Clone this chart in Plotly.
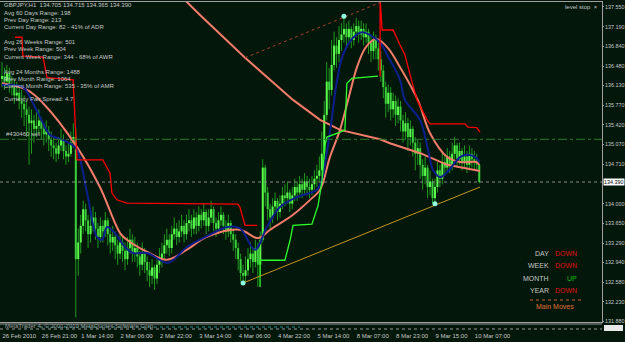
import plotly.graph_objects as go

# ---------------- data ----------------
tick_bars = [0, 16, 32, 48, 64, 80, 96, 112, 128, 144, 160, 176, 192]
tick_labels = ["26 Feb 2010", "26 Feb 21:00", "1 Mar 14:00", "2 Mar 06:00", "2 Mar 22:00",
               "3 Mar 14:00", "4 Mar 06:00", "4 Mar 22:00", "5 Mar 14:00", "8 Mar 07:00",
               "8 Mar 23:00", "9 Mar 15:00", "10 Mar 07:00"]
price_ticks = [137.550, 137.190, 136.840, 136.480, 136.130, 135.770, 135.420, 135.070,
               134.710, 134.000, 133.650, 133.290, 132.940, 132.580, 132.230, 131.880]

first_open = 136.25
closes = [136.30, 136.20, 136.35, 136.15, 136.10, 135.95, 136.00, 135.85, 135.80, 135.70,
          135.60, 135.45, 135.50, 135.35, 135.40, 135.50, 135.35, 135.25, 135.30, 135.15,
          135.05, 135.00, 134.90, 135.05, 135.15, 134.95, 134.85, 134.90, 135.10, 135.20,
          133.00, 133.30, 133.60, 133.90, 133.70, 133.45, 133.60, 133.75, 133.55, 133.40,
          133.60, 133.50, 133.70, 133.45, 133.30, 133.40, 133.25, 133.10, 133.30, 133.15,
          133.00, 133.20, 133.35, 133.10, 133.20, 133.05, 132.90, 133.10, 132.95, 132.80,
          132.70, 132.85, 132.65, 132.90, 133.00, 133.10, 133.25, 133.35, 133.20, 133.45,
          133.55, 133.40, 133.50, 133.60, 133.45, 133.65, 133.70, 133.55, 133.75, 133.60,
          133.80, 133.70, 133.85, 133.60, 133.75, 133.90, 133.65, 133.55, 133.70, 133.80,
          133.60, 133.50, 133.65, 133.45, 133.35, 133.20, 133.00, 132.75, 132.70, 132.80,
          133.00, 133.10, 132.95, 133.20, 132.90, 133.35, 134.65, 134.20, 133.90, 133.75,
          133.95, 134.05, 133.85, 134.00, 134.15, 134.10, 134.20, 134.00, 134.15, 134.30,
          134.20, 134.35, 134.25, 134.40, 134.30, 134.25, 134.35, 134.45, 134.50, 134.60,
          134.90, 135.60, 136.20, 136.05, 136.50, 136.85, 136.70, 136.95, 137.05, 137.15,
          137.00, 137.15, 136.95, 137.10, 137.20, 137.05, 137.15, 137.00, 137.10, 136.90,
          136.75, 136.95, 136.80, 136.60, 136.40, 136.10, 135.80, 136.00, 135.70, 135.85,
          135.60, 135.75, 135.50, 135.30, 135.45, 135.20, 135.35, 135.10, 134.90, 135.00,
          134.70, 134.50, 134.65, 134.30, 134.40, 134.10, 134.30, 134.60, 134.45, 134.75,
          134.65, 134.85, 134.70, 134.90, 135.05, 134.80, 134.95, 134.75, 134.85, 134.70,
          134.90, 134.80, 134.75, 134.705, 134.390]
highs = [136.55, 136.45, 136.50, 136.45, 136.30, 136.25, 136.20, 136.10, 136.05, 135.95,
         135.85, 135.75, 135.70, 135.60, 135.65, 135.70, 135.55, 135.45, 135.50, 135.40,
         135.30, 135.20, 135.10, 135.20, 135.35, 135.25, 135.05, 135.10, 135.30, 135.45,
         135.35, 133.55, 133.80, 134.05, 134.00, 133.80, 133.85, 133.95, 133.85, 133.65,
         133.75, 133.70, 133.85, 133.75, 133.55, 133.60, 133.50, 133.35, 133.45, 133.40,
         133.30, 133.40, 133.55, 133.45, 133.40, 133.30, 133.15, 133.30, 133.20, 133.05,
         132.95, 133.00, 132.90, 133.05, 133.20, 133.30, 133.45, 133.55, 133.45, 133.60,
         133.75, 133.65, 133.70, 133.80, 133.70, 133.80, 133.90, 133.80, 133.90, 133.85,
         133.95, 133.90, 134.00, 133.90, 133.90, 134.05, 133.95, 133.75, 133.85, 133.95,
         133.85, 133.70, 133.80, 133.70, 133.55, 133.45, 133.30, 133.10, 132.90, 133.05,
         133.20, 133.30, 133.20, 133.35, 133.30, 133.50, 134.80, 134.70, 134.30, 134.00,
         134.10, 134.20, 134.10, 134.15, 134.30, 134.35, 134.40, 134.25, 134.30, 134.45,
         134.40, 134.50, 134.45, 134.55, 134.50, 134.45, 134.50, 134.60, 134.70, 134.85,
         135.30, 135.85, 136.55, 136.45, 136.95, 137.10, 137.00, 137.20, 137.25, 137.38,
         137.25, 137.30, 137.20, 137.25, 137.35, 137.30, 137.30, 137.25, 137.25, 137.15,
         137.05, 137.10, 137.05, 136.90, 136.75, 136.50, 136.20, 136.15, 136.10, 136.00,
         135.95, 135.90, 135.85, 135.60, 135.65, 135.55, 135.50, 135.40, 135.20, 135.15,
         135.10, 134.80, 134.85, 134.70, 134.60, 134.45, 134.45, 134.75, 134.70, 134.95,
         134.90, 135.00, 134.95, 135.10, 135.20, 135.10, 135.10, 135.00, 135.05, 134.95,
         135.05, 135.00, 134.95, 134.90, 134.715]
lows = [136.10, 136.05, 136.10, 136.00, 135.95, 135.80, 135.85, 135.70, 135.55, 135.40,
        135.20, 134.70, 134.90, 135.10, 135.20, 135.25, 135.15, 135.05, 135.10, 134.95,
        134.85, 134.80, 134.75, 134.80, 134.95, 134.80, 134.70, 134.75, 134.85, 135.00,
        131.95, 132.70, 133.10, 133.45, 133.50, 133.20, 133.30, 133.50, 133.35, 133.20,
        133.30, 133.30, 133.40, 133.25, 133.10, 133.15, 133.00, 132.90, 133.00, 132.95,
        132.80, 132.90, 133.10, 132.95, 132.95, 132.85, 132.70, 132.80, 132.75, 132.60,
        132.50, 132.55, 132.45, 132.55, 132.75, 132.85, 133.00, 133.10, 133.05, 133.10,
        133.35, 133.25, 133.30, 133.40, 133.30, 133.35, 133.50, 133.40, 133.45, 133.45,
        133.50, 133.55, 133.60, 133.45, 133.50, 133.65, 133.50, 133.40, 133.45, 133.60,
        133.45, 133.35, 133.40, 133.30, 133.15, 133.00, 132.80, 132.60, 132.57, 132.60,
        132.70, 132.85, 132.75, 132.85, 132.50, 132.70, 133.30, 133.95, 133.70, 133.55,
        133.65, 133.85, 133.70, 133.75, 133.90, 133.95, 134.00, 133.85, 133.90, 134.05,
        134.05, 134.10, 134.10, 134.15, 134.15, 134.10, 134.15, 134.25, 134.30, 134.40,
        134.50, 134.80, 135.50, 135.70, 135.95, 136.40, 136.45, 136.55, 136.75, 136.90,
        136.80, 136.90, 136.80, 136.85, 137.00, 136.90, 136.95, 136.85, 136.90, 136.70,
        136.55, 136.60, 136.60, 136.40, 136.20, 135.90, 135.55, 135.65, 135.50, 135.55,
        135.40, 135.45, 135.30, 135.10, 135.15, 134.95, 135.05, 134.85, 134.60, 134.70,
        134.45, 134.25, 134.35, 134.10, 134.15, 134.00, 134.00, 134.20, 134.30, 134.35,
        134.50, 134.55, 134.55, 134.60, 134.80, 134.65, 134.70, 134.60, 134.65, 134.55,
        134.60, 134.65, 134.60, 134.60, 134.365]
opens = [first_open] + closes[:-1]
bars = list(range(len(closes)))

# fast MA (blue)
blue_x = [0, 8.5, 12.6, 16.7, 19.5, 24.8, 28.5, 30.5, 34.6, 38.6, 40.7, 42.7, 45.9, 50, 53.3,
          59, 67, 69.5, 75.2, 80.5, 85.8, 91.5, 96.7, 102.8, 107.7, 113, 120, 128, 130, 132,
          134, 136, 138.6, 142.7, 146.3, 149.6, 153.7, 157.7, 161.8, 163.8, 169.9, 173.2,
          175.2, 178, 181, 186.2, 189, 193, 194]
blue_y = [136.14, 136.10, 135.81, 135.45, 135.24, 135.15, 135.06, 134.97, 134.19, 133.40,
          133.35, 133.58, 133.47, 133.22, 133.11, 133.11, 132.93, 132.98, 133.22, 133.35,
          133.47, 133.58, 133.56, 133.17, 133.58, 133.94, 134.12, 134.25, 134.43, 134.91,
          135.51, 136.17, 136.68, 136.99, 137.09, 137.04, 136.90, 136.59, 136.23, 135.87,
          135.51, 134.97, 134.61, 134.48, 134.57, 134.84, 134.88, 134.82, 134.75]
# medium MA (salmon)
fast_x = [0, 10.2, 16.7, 30.5, 39.8, 48, 50.8, 59, 67, 75.2, 83.3, 96.7, 104, 109, 118.3, 126,
          129.3, 133.3, 137.4, 140.7, 144.3, 147.6, 150.8, 152.4, 157, 161.8, 169, 174, 181,
          186.2, 193, 194]
fast_y = [136.17, 136.05, 135.81, 135.02, 134.30, 133.47, 133.35, 133.13, 132.99, 133.17,
          133.40, 133.53, 133.38, 133.53, 133.80, 134.10, 134.25, 134.84, 135.33, 135.87,
          136.46, 136.80, 136.95, 136.97, 136.80, 136.46, 135.87, 135.27, 134.84, 134.75,
          134.75, 134.70]
# slow MA (salmon)
slow_x = [60, 75.2, 80.5, 98.8, 118.3, 129.3, 137.4, 153.7, 157.7, 170, 181, 194.3]
slow_y = [138.30, 137.63, 137.40, 136.63, 135.87, 135.51, 135.33, 135.16, 135.09, 134.91,
          134.70, 134.59]
# level stop (red = resistance, green = support)
red1_x = [5.3, 8.1, 8.5, 16.7, 18.3, 28.9, 30.5, 41, 43.9, 44.7, 46.7, 50.8, 95.9, 96.7, 98.8, 103.7]
red1_y = [137.00, 137.00, 136.66, 136.64, 136.27, 136.23, 134.79, 134.79, 134.55, 134.19,
          134.07, 134.01, 133.99, 133.94, 133.61, 133.61]
red2_x = [153.7, 153.7, 154.5, 159, 161.8, 163.8, 165.9, 168.7, 172.8, 174, 188.2, 189.4, 193, 194.3]
red2_y = [136.29, 137.70, 137.13, 137.13, 136.86, 136.68, 136.32, 135.87, 135.51, 135.44,
          135.44, 135.38, 135.37, 135.29]
green_x = [104.9, 104.9, 115, 117.1, 118.3, 126, 128.5, 130.1, 131.3, 132.1, 137.4, 139.4,
           140.2, 142.3, 152.8]
green_y = [132.50, 132.98, 132.98, 133.34, 133.61, 133.63, 133.97, 134.42, 135.05, 135.20,
           135.29, 135.33, 136.17, 136.26, 136.30]
# channel lines and pivots
upper_x = [98.8, 154.5]
upper_y = [136.63, 137.64]
lower_x = [98, 194.3]
lower_y = [132.57, 134.30]
pivot_x = [98, 139, 176]
pivot_y = [132.57, 137.38, 134.00]

sell_level = 135.16
bid = 134.390

info_lines = ["GBPJPY,H1  134.705 134.715 134.365 134.390", "Avg 60 Days Range: 198",
              "Prev Day Range: 213", "Current Day Range: 82 - 41% of ADR",
              "Avg 26 Weeks Range: 501", "Prev Week Range: 504",
              "Current Week Range: 344 - 68% of AWR", "Avg 24 Months Range: 1488",
              "Prev Month Range: 1064", "Current Month Range: 535 - 35% of AMR",
              "Currency Pair Spread: 4.7"]
info_rows = [5, 13, 20, 27, 42, 49, 57, 72, 79, 86, 99]
moves_labels = ["DAY", "WEEK", "MONTH", "YEAR"]
moves_values = ["DOWN", "DOWN", "UP", "DOWN"]
moves_rows = [253, 265, 278, 290]

# ---------------- figure ----------------
BG = "#03170a"
TXT = "#c8c8c8"
FONT = "Liberation Sans, Arial, sans-serif"
PW, PT, PB = 602, 2, 322


def X(px):
    return px / PW


def Y(py):
    return (PB - py) / (PB - PT)


# candle segments (wicks and bodies) built from OHLC lists
wick_x, wick_y = [], []
bull_x, bull_y, bear_x, bear_y = [], [], [], []
for i, o, h, l, c in zip(bars, opens, highs, lows, closes):
    wick_x += [i, i, None]
    wick_y += [l, h, None]
    if c >= o:
        bull_x += [i, i, None]
        bull_y += [o, c, None]
    else:
        bear_x += [i, i, None]
        bear_y += [o, c, None]

fig = go.Figure()
fig.add_trace(go.Scatter(x=wick_x, y=wick_y, mode="lines", line=dict(color="#1f9a1f", width=1),
                         hoverinfo="skip"))
fig.add_trace(go.Scatter(x=bear_x, y=bear_y, mode="lines", line=dict(color="#3ccf3c", width=2),
                         hoverinfo="skip"))
fig.add_trace(go.Scatter(x=bull_x, y=bull_y, mode="lines", line=dict(color="#5cff4c", width=2),
                         hoverinfo="skip"))
fig.add_trace(go.Scatter(x=slow_x, y=slow_y, mode="lines", line=dict(color="#f47c6a", width=2)))
fig.add_trace(go.Scatter(x=fast_x, y=fast_y, mode="lines", line=dict(color="#f47c6a", width=2, shape="spline")))
fig.add_trace(go.Scatter(x=blue_x, y=blue_y, mode="lines", line=dict(color="#0c1f8f", width=2, shape="spline")))
fig.add_trace(go.Scatter(x=red1_x, y=red1_y, mode="lines", line=dict(color="#ff0000", width=1.3)))
fig.add_trace(go.Scatter(x=red2_x, y=red2_y, mode="lines", line=dict(color="#ff0000", width=1.3)))
fig.add_trace(go.Scatter(x=green_x, y=green_y, mode="lines", line=dict(color="#2cff2c", width=1.3)))
fig.add_trace(go.Scatter(x=upper_x, y=upper_y, mode="lines", line=dict(color="#a8402c", width=1, dash="dot")))
fig.add_trace(go.Scatter(x=lower_x, y=lower_y, mode="lines", line=dict(color="#c8961e", width=1)))
fig.add_trace(go.Scatter(x=pivot_x, y=pivot_y, mode="markers", marker=dict(color="#8ffce0", size=5)))

shapes = [
    dict(type="line", xref="paper", x0=0, x1=1, yref="y", y0=sell_level, y1=sell_level,
         line=dict(color="#2f7a2f", width=1, dash="dashdot")),
    dict(type="line", xref="paper", x0=0, x1=1, yref="y", y0=bid, y1=bid,
         line=dict(color="#8a8a8a", width=1, dash="dot")),
    # sub window strip at the bottom
    dict(type="line", xref="paper", x0=0, x1=1, yref="paper", y0=Y(324), y1=Y(324),
         line=dict(color="#9a9a9a", width=1)),
    dict(type="line", xref="paper", x0=0, x1=1, yref="paper", y0=Y(329), y1=Y(329),
         line=dict(color="#9a9a9a", width=1, dash="dot")),
    dict(type="line", xref="paper", x0=X(40), x1=X(300), yref="paper", y0=Y(327), y1=Y(327),
         line=dict(color="#2a8a8a", width=1, dash="dot")),
    dict(type="rect", xref="paper", x0=X(604), x1=X(623), yref="paper", y0=Y(331), y1=Y(325),
         fillcolor="#e8e8e8", line=dict(width=0)),
    # dashed separator in Main Moves panel
    dict(type="line", xref="paper", x0=X(530), x1=X(582), yref="paper", y0=Y(300), y1=Y(300),
         line=dict(color="#c86432", width=1, dash="dot")),
]

ann = []
for t, r in zip(info_lines, info_rows):
    ann.append(dict(x=X(2), y=Y(r), xref="paper", yref="paper", text=t, showarrow=False,
                    xanchor="left", yanchor="middle", font=dict(color=TXT, size=6, family=FONT)))
for lab, val, r in zip(moves_labels, moves_values, moves_rows):
    ann.append(dict(x=X(551), y=Y(r), xref="paper", yref="paper", text=lab, showarrow=False,
                    xanchor="right", yanchor="middle", font=dict(color=TXT, size=7, family=FONT)))
    if val == "UP":
        ann.append(dict(x=X(579), y=Y(r), xref="paper", yref="paper", text=val, showarrow=False,
                        xanchor="right", yanchor="middle", font=dict(color="#10c010", size=7, family=FONT)))
    else:
        ann.append(dict(x=X(553), y=Y(r), xref="paper", yref="paper", text=val, showarrow=False,
                        xanchor="left", yanchor="middle", font=dict(color="#e01010", size=7, family=FONT)))
ann.append(dict(x=X(534), y=Y(306), xref="paper", yref="paper", text="Main Moves", showarrow=False,
                xanchor="left", yanchor="middle", font=dict(color="#e0703a", size=7, family=FONT)))
ann.append(dict(x=X(4), y=sell_level, xref="paper", yref="y", text="#430460 sell", showarrow=False,
                xanchor="left", yanchor="bottom", font=dict(color=TXT, size=6, family=FONT)))
ann.append(dict(x=X(563), y=Y(7), xref="paper", yref="paper", text="level stop  \u00d7", showarrow=False,
                xanchor="left", yanchor="middle", font=dict(color=TXT, size=6, family=FONT)))
ann.append(dict(x=X(603), y=bid, xref="paper", yref="y", text="134.390", showarrow=False,
                xanchor="left", yanchor="middle", bgcolor="#ffffff", borderpad=0,
                font=dict(color="#000000", size=5.4, family=FONT)))
ann.append(dict(x=X(3), y=Y(326), xref="paper", yref="paper",
                text="MetaTrader 4, \u00a9 2001-2010 MetaQuotes Software Corp.", showarrow=False,
                xanchor="left", yanchor="middle", font=dict(color="#9a9a9a", size=6, family=FONT)))

fig.update_layout(
    width=625, height=342, margin=dict(l=0, r=23, t=PT, b=342 - PB, autoexpand=False),
    paper_bgcolor=BG, plot_bgcolor=BG, showlegend=False,
    shapes=shapes, annotations=ann,
    xaxis=dict(range=[-0.81, 243.9], tickvals=tick_bars, ticktext=tick_labels,
               showgrid=False, zeroline=False, automargin=False, tickangle=0,
               showline=True, linecolor="#a0a0a0", mirror=True, ticks="",
               ticklabelposition="outside right", ticklabelstandoff=8,
               tickfont=dict(color=TXT, size=6, family=FONT)),
    yaxis=dict(range=[131.867, 137.635], side="right", tickvals=price_ticks, automargin=False,
               ticktext=["%.3f" % v for v in price_ticks], showgrid=False, zeroline=False,
               showline=True, linecolor="#a0a0a0", mirror=True, ticks="outside", ticklen=1,
               ticklabelstandoff=0,
               tickcolor="#a0a0a0", tickfont=dict(color=TXT, size=5.4, family=FONT)),
)

fig.write_html("out.html")
